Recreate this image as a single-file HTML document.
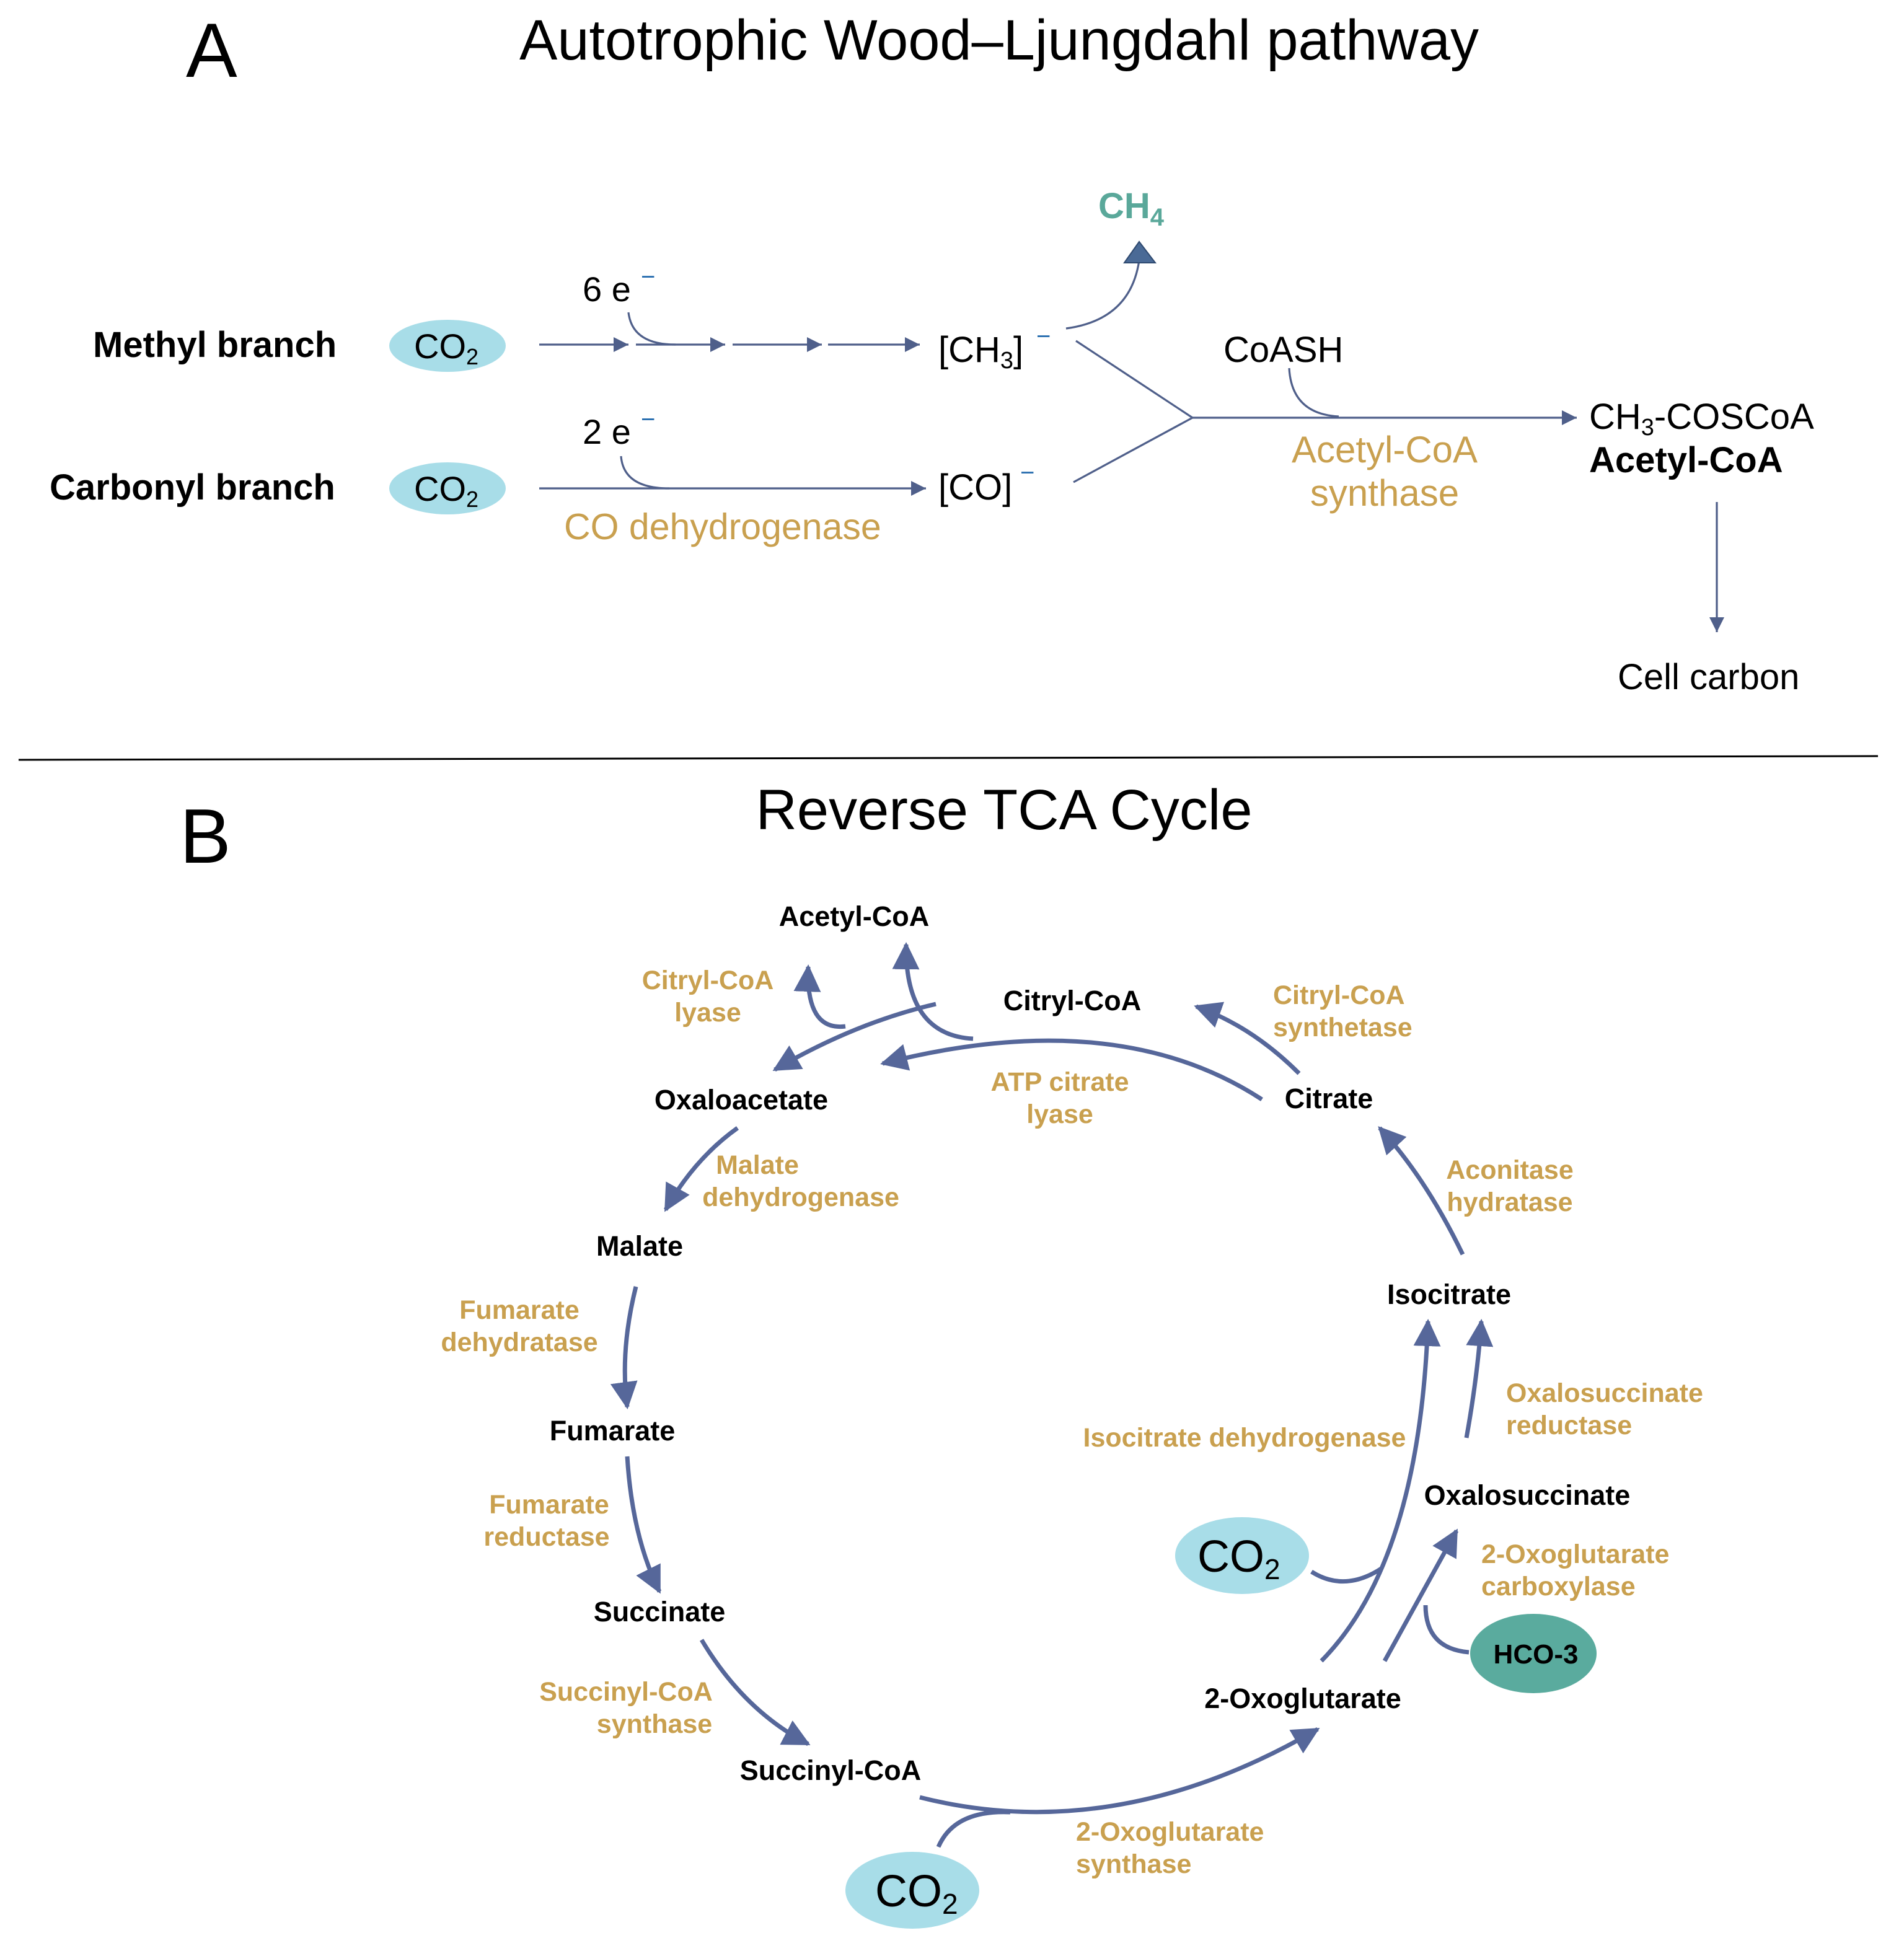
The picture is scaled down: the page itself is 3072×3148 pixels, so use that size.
<!DOCTYPE html>
<html><head><meta charset="utf-8"><style>html,body{margin:0;padding:0;background:#fff}svg{display:block}</style></head>
<body>
<svg width="3072" height="3148" viewBox="0 0 1536 1574" xmlns="http://www.w3.org/2000/svg" font-family="Liberation Sans, Arial, sans-serif">
<defs>
<marker id="a1" markerUnits="userSpaceOnUse" markerWidth="14" markerHeight="12" refX="12" refY="6" orient="auto"><path d="M0,0 L12,6 L0,12 z" fill="#4f5f8a"/></marker>
<marker id="a2" markerUnits="userSpaceOnUse" markerWidth="24" markerHeight="22" refX="20" refY="11" orient="auto"><path d="M0,0 L22,11 L0,22 z" fill="#56679a"/></marker>
</defs>
<rect width="1536" height="1574" fill="#fff"/>
<!-- Part A -->
<text x="150" y="62" font-size="62">A</text>
<text x="806" y="48" font-size="46" text-anchor="middle">Autotrophic Wood–Ljungdahl pathway</text>
<text x="886" y="176" font-size="29" font-weight="bold" fill="#5aa89a">CH<tspan font-size="20" dy="6">4</tspan></text>
<path d="M860,265 Q912,258 919,210" fill="none" stroke="#4f5f8a" stroke-width="1.6"/>
<path d="M907,212 L919,195 L932,212 z" fill="#4a6a96" stroke="#2f4a70" stroke-width="1"/>
<text x="75" y="288" font-size="29" font-weight="bold">Methyl branch</text>
<text x="40" y="403" font-size="29" font-weight="bold">Carbonyl branch</text>
<ellipse cx="361" cy="279" rx="47" ry="21" fill="#a8dde8"/>
<ellipse cx="361" cy="394" rx="47" ry="21" fill="#a8dde8"/>
<text x="334" y="289" font-size="28">CO<tspan font-size="18" dy="5">2</tspan></text>
<text x="334" y="404" font-size="28">CO<tspan font-size="18" dy="5">2</tspan></text>
<g stroke="#4f5f8a" stroke-width="1.6" fill="none">
<line x1="435" y1="278" x2="507" y2="278" marker-end="url(#a1)"/>
<line x1="513" y1="278" x2="585" y2="278" marker-end="url(#a1)"/>
<line x1="591" y1="278" x2="663" y2="278" marker-end="url(#a1)"/>
<line x1="668" y1="278" x2="742" y2="278" marker-end="url(#a1)"/>
<path d="M507,252 Q510,278 545,278"/>
<line x1="435" y1="394" x2="747" y2="394" marker-end="url(#a1)"/>
<path d="M501,368 Q503,394 540,394"/>
<line x1="868" y1="275" x2="962" y2="337"/>
<line x1="866" y1="389" x2="962" y2="337"/>
<line x1="962" y1="337" x2="1272" y2="337" marker-end="url(#a1)"/>
<path d="M1040,297 Q1042,334 1080,336"/>
<line x1="1385" y1="405" x2="1385" y2="510" marker-end="url(#a1)"/>
</g>
<text x="470" y="243" font-size="28">6 e</text><text x="517" y="230" font-size="20" fill="#2a6fb0">−</text>
<text x="470" y="358" font-size="28">2 e</text><text x="517" y="345" font-size="20" fill="#2a6fb0">−</text>
<text x="757" y="292" font-size="29">[CH<tspan font-size="19" dy="5">3</tspan><tspan dy="-5">]</tspan></text><text x="836" y="278" font-size="20" fill="#2a6fb0">−</text>
<text x="757" y="403" font-size="29">[CO]</text><text x="823" y="388" font-size="20" fill="#2a6fb0">−</text>
<text x="987" y="292" font-size="29">CoASH</text>
<text x="1117" y="373" font-size="30" fill="#c9a04f" text-anchor="middle">Acetyl-CoA</text>
<text x="1117" y="408" font-size="30" fill="#c9a04f" text-anchor="middle">synthase</text>
<text x="455" y="435" font-size="29.5" fill="#c9a04f">CO dehydrogenase</text>
<text x="1282" y="346" font-size="29">CH<tspan font-size="19" dy="5">3</tspan><tspan dy="-5">-COSCoA</tspan></text>
<text x="1282" y="381" font-size="29" font-weight="bold">Acetyl-CoA</text>
<text x="1305" y="556" font-size="29">Cell carbon</text>
<line x1="15" y1="613" x2="1515" y2="610" stroke="#000" stroke-width="1.5"/>
<!-- Part B -->
<text x="145" y="696" font-size="62">B</text>
<text x="810" y="669" font-size="46" text-anchor="middle">Reverse TCA Cycle</text>
<g font-size="22.5" font-weight="bold" text-anchor="middle" fill="#000">
<text x="689" y="747">Acetyl-CoA</text>
<text x="865" y="815">Citryl-CoA</text>
<text x="598" y="895">Oxaloacetate</text>
<text x="1072" y="894">Citrate</text>
<text x="516" y="1013">Malate</text>
<text x="1169" y="1052">Isocitrate</text>
<text x="494" y="1162">Fumarate</text>
<text x="1232" y="1214">Oxalosuccinate</text>
<text x="532" y="1308">Succinate</text>
<text x="1051" y="1378">2-Oxoglutarate</text>
<text x="670" y="1436">Succinyl-CoA</text>
</g>
<g font-size="21.5" font-weight="bold" fill="#c9a04f">
<g text-anchor="middle">
<text x="571" y="798">Citryl-CoA</text><text x="571" y="824">lyase</text>
<text x="855" y="880">ATP citrate</text><text x="855" y="906">lyase</text>
<text x="611" y="947">Malate</text><text x="646" y="973">dehydrogenase</text>
<text x="1218" y="951">Aconitase</text><text x="1218" y="977">hydratase</text>
<text x="419" y="1064">Fumarate</text><text x="419" y="1090">dehydratase</text>
<text x="1004" y="1167">Isocitrate dehydrogenase</text>
<text x="443" y="1221">Fumarate</text><text x="441" y="1247">reductase</text>
<text x="505" y="1372">Succinyl-CoA</text><text x="528" y="1398">synthase</text>
</g>
<text x="1027" y="810">Citryl-CoA</text><text x="1027" y="836">synthetase</text>
<text x="1215" y="1131">Oxalosuccinate</text><text x="1215" y="1157">reductase</text>
<text x="1195" y="1261">2-Oxoglutarate</text><text x="1195" y="1287">carboxylase</text>
<text x="868" y="1485">2-Oxoglutarate</text><text x="868" y="1511">synthase</text>
</g>
<g stroke="#56679a" stroke-width="3.5" fill="none">
<path d="M1048,866 Q1010,828 965,812" marker-end="url(#a2)"/>
<path d="M1018,887 Q900,810 712,858" marker-end="url(#a2)"/>
<path d="M755,810 Q690,825 625,863" marker-end="url(#a2)"/>
<path d="M785,838 Q730,835 731,762" marker-end="url(#a2)"/>
<path d="M682,828 Q650,832 652,780" marker-end="url(#a2)"/>
<path d="M595,910 Q560,935 537,976" marker-end="url(#a2)"/>
<path d="M513,1038 Q500,1090 506,1135" marker-end="url(#a2)"/>
<path d="M506,1175 Q510,1240 532,1284" marker-end="url(#a2)"/>
<path d="M566,1323 Q600,1380 652,1407" marker-end="url(#a2)"/>
<path d="M742,1450 Q900,1490 1063,1395" marker-end="url(#a2)"/>
<path d="M757,1490 Q770,1460 815,1462"/>
<path d="M1066,1340 Q1145,1260 1152,1066" marker-end="url(#a2)"/>
<path d="M1117,1340 Q1150,1280 1175,1235" marker-end="url(#a2)"/>
<path d="M1185,1333 Q1150,1330 1150,1295"/>
<path d="M1058,1268 Q1085,1285 1115,1265"/>
<path d="M1183,1160 Q1192,1110 1195,1066" marker-end="url(#a2)"/>
<path d="M1180,1012 Q1150,950 1113,910" marker-end="url(#a2)"/>
</g>
<ellipse cx="1002" cy="1255" rx="54" ry="31" fill="#a8dde8"/>
<text x="966" y="1268" font-size="36">CO<tspan font-size="23" dy="6">2</tspan></text>
<ellipse cx="736" cy="1525" rx="54" ry="31" fill="#a8dde8"/>
<text x="706" y="1538" font-size="36">CO<tspan font-size="23" dy="6">2</tspan></text>
<ellipse cx="1237" cy="1334" rx="51" ry="32" fill="#5aab9e"/>
<text x="1239" y="1342" font-size="22" font-weight="bold" text-anchor="middle">HCO-3</text>
</svg>
</body></html>
